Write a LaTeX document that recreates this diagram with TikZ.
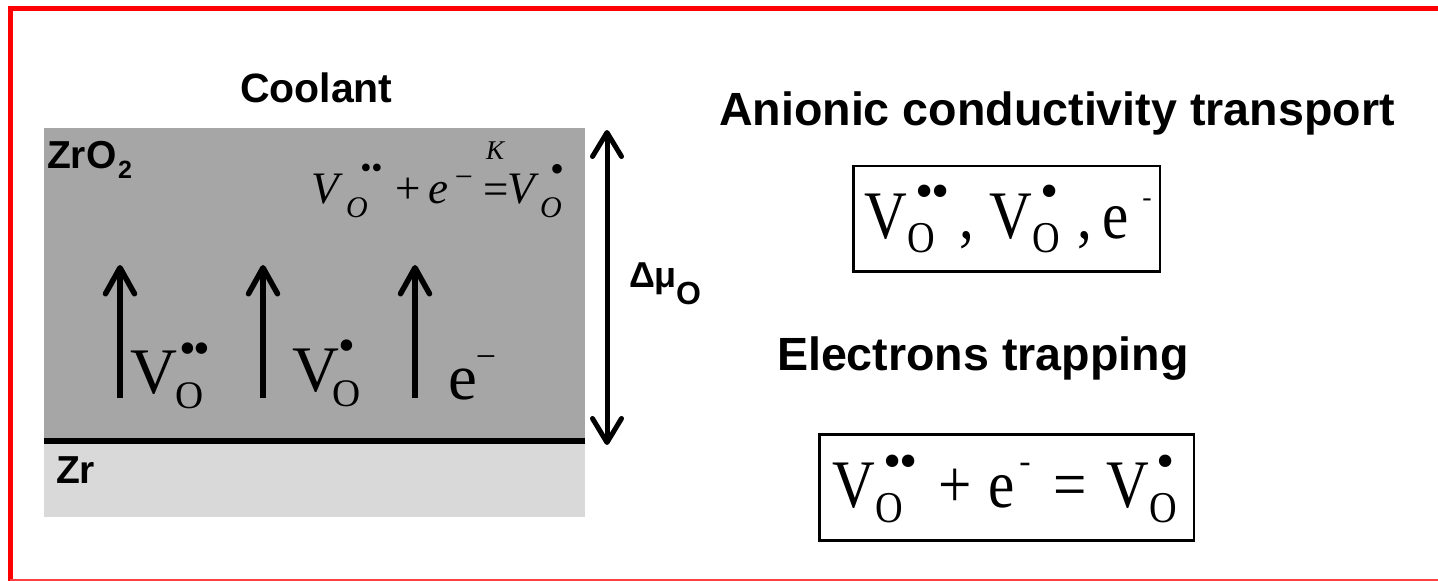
\documentclass[tikz,border=0pt]{standalone}
\usepackage{fontspec}
\setmainfont{Liberation Serif}
\newfontfamily\arialf{Liberation Sans}
\usetikzlibrary{arrows.meta}
\newcommand\fsz[1]{\fontsize{#1}{#1}\selectfont}
\newcommand\nar[1]{\scalebox{0.87}[1]{#1}}
\definecolor{zro}{HTML}{A6A6A6}
\definecolor{zrm}{HTML}{D9D9D9}
\definecolor{frame}{HTML}{FF0000}
\definecolor{framelt}{HTML}{FF4040}
\tikzset{
  txt/.style={inner sep=0pt, outer sep=0pt, anchor=base west},
  sans/.style={txt, font={\arialf\bfseries\fsz{#1}}},
  ser/.style={txt, font={\fsz{#1}}},
  seri/.style={txt, font={\itshape\fsz{#1}}},
  dotn/.style={inner sep=0pt, outer sep=0pt, anchor=center, font={\fsz{#1}}},
  flux/.style={line width=5.5pt, -{Straight Barb[length=26pt,width=29pt,line cap=round,line join=round]}},
  both/.style={line width=5pt, {Straight Barb[length=24pt,width=29pt,line cap=round,line join=round]}-{Straight Barb[length=24pt,width=29pt,line cap=round,line join=round]}},
  eqbox/.style={draw, line width=2.5pt, inner sep=0pt},
}
\begin{document}
\begin{tikzpicture}[x=1pt,y=-1pt]
\useasboundingbox (0,0) rectangle (1438,581);
\fill[white] (0,0) rectangle (1438,581);
% frame
\draw[frame, line width=5pt] (1440,8) -- (10,8) -- (10,581);
\draw[framelt, line width=2pt] (10,579.5) -- (1440,579.5);
% layers
\fill[zro] (44,128) rectangle (585,441);
\fill[zrm] (44,441) rectangle (585,517);
\draw[line width=6pt] (44,441) -- (585,441);
% labels
\node[sans=41] (cool) at (240,102) {Coolant};
\node[sans=39] (zro2) at (47,168) {ZrO};
\node[sans=25] (zro2s) at (118,178) {2};
\node[sans=39] (zr) at (56,483) {Zr};
\node[sans=36] (dmu) at (629,287) {Δμ};
\node[sans=32] (dmus) at (676,304) {O};
\node[sans=46.6] (anion) at (719,125) {Anionic conductivity transport};
\node[sans=46.6] (trap) at (777,370) {Electrons trapping};
% italic reaction
\node[seri=45] (iv1) at (311,203) {V};
\node[seri=30] (io1) at (346,217) {O};
\node[dotn=32] (id1a) at (366,171.5) {•};
\node[dotn=32] (id1b) at (377,171.5) {•};
\node[ser=45] (ipl) at (395,203) {+};
\node[seri=45] (ie) at (428,203) {e};
\node[dotn=32] (imi) at (464,182) {−};
\node[ser=45] (ieq) at (483,204) {=};
\node[dotn=27, font={\itshape\fsz{27}}] (ik) at (495,151) {K};
\node[seri=45] (iv2) at (507,203) {V};
\node[seri=30] (io2) at (540,217) {O};
\node[dotn=40] (id2) at (557,173) {•};
% flux arrows
\coordinate (f1s) at (120,398); \coordinate (f1e) at (120,265);
\coordinate (f2s) at (263,398); \coordinate (f2e) at (263,265);
\coordinate (f3s) at (415,398); \coordinate (f3e) at (415,265);
\draw[flux] (f1s) -- (f1e);
\draw[flux] (f2s) -- (f2e);
\draw[flux] (f3s) -- (f3e);
\coordinate (mt) at (607,130); \coordinate (mb) at (607,445);
\draw[both] (mt) -- (mb);
% species in layer
\node[ser=65] (lv1) at (130,393) {V};
\node[ser=39] (lo1) at (175,408) {O};
\node[dotn=48] (ld1a) at (188,354) {•};
\node[dotn=48] (ld1b) at (202,354) {•};
\node[ser=65] (lv2) at (292,391) {V};
\node[ser=39] (lo2) at (332,406) {O};
\node[dotn=48] (ld2) at (346.5,351) {•};
\node[ser=65] (le) at (448,399) {e};
\node[dotn=36] (lmi) at (486,362) {−};
% box 1
\node[eqbox, minimum width=306.5pt, minimum height=105.5pt] (box1) at (1006.75,218.75) {};
\node[ser=68] (av1) at (864,238) {\nar{V}};
\node[ser=44] (ao1) at (907,252.5) {\nar{O}};
\node[dotn=52] (ad1a) at (924.5,196.5) {•};
\node[dotn=52] (ad1b) at (940.5,196.5) {•};
\node[ser=68] (ac1) at (959,238) {\nar{,}};
\node[ser=68] (av2) at (989,238) {\nar{V}};
\node[ser=44] (ao2) at (1032,252.5) {\nar{O}};
\node[dotn=52] (ad2) at (1049.5,196.5) {•};
\node[ser=68] (ac2) at (1077,238) {\nar{,}};
\node[ser=68] (ae) at (1102,238) {\nar{e}};
\node[dotn=28] (ahy) at (1147,203) {-};
% box 2
\node[eqbox, minimum width=374.5pt, minimum height=106pt] (box2) at (1006.75,487.5) {};
\node[ser=68] (bv1) at (832,507) {\nar{V}};
\node[ser=44] (bo1) at (875,522.5) {\nar{O}};
\node[dotn=52] (bd1a) at (892.5,466.5) {•};
\node[dotn=52] (bd1b) at (908.5,466.5) {•};
\node[ser=68] (bpl) at (938,507) {\nar{+}};
\node[ser=68] (be) at (988,507) {\nar{e}};
\node[dotn=34] (bhy) at (1025,468) {-};
\node[ser=68] (beq) at (1053,507) {\nar{=}};
\node[ser=68] (bv2) at (1106,507) {\nar{V}};
\node[ser=44] (bo2) at (1149,522.5) {\nar{O}};
\node[dotn=52] (bd2) at (1165.5,466.5) {•};
\end{tikzpicture}
\end{document}
